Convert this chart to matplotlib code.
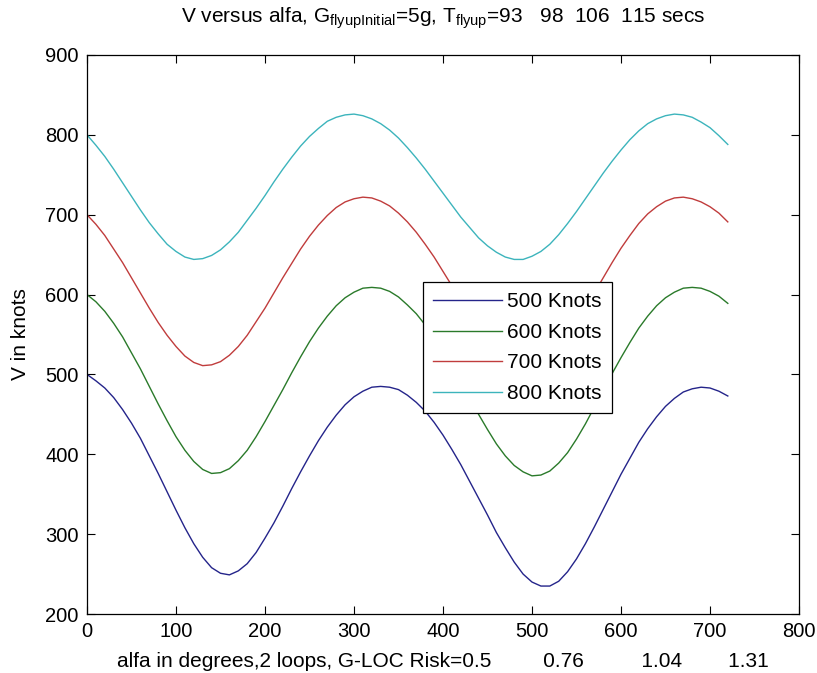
import matplotlib
matplotlib.use("Agg")
import matplotlib.pyplot as plt

plt.rcParams['font.family'] = ['Liberation Sans', 'DejaVu Sans']
plt.rcParams['mathtext.fontset'] = 'custom'
plt.rcParams['mathtext.rm'] = 'Liberation Sans'
plt.rcParams['mathtext.it'] = 'Liberation Sans'

# loop angle, degrees (two loops)
alfa = list(range(0, 721, 10))

# speed along the loop for each entry speed, knots
v500 = [500, 492, 483, 471, 456, 439, 420, 398, 376, 353,
        330, 308, 288, 271, 258, 251, 249, 254, 263, 277,
        295, 314, 335, 357, 378, 398, 417, 434, 449, 462,
        472, 479, 484, 485, 484, 481, 474, 465, 454, 440,
        424, 406, 387, 366, 345, 324, 302, 283, 265, 250,
        240, 235, 235, 241, 253, 269, 288, 309, 331, 353,
        375, 395, 415, 432, 447, 460, 470, 478, 482, 484,
        483, 479, 473]
v600 = [600, 591, 579, 564, 547, 527, 507, 485, 463, 442,
        422, 405, 391, 381, 376, 377, 382, 392, 405, 422,
        441, 461, 481, 502, 522, 541, 558, 573, 586, 596,
        603, 608, 609, 608, 604, 597, 587, 576, 562, 546,
        528, 509, 490, 470, 450, 431, 413, 398, 386, 378,
        373, 374, 379, 389, 402, 419, 438, 459, 480, 501,
        521, 540, 558, 573, 586, 596, 603, 608, 609, 608,
        604, 598, 589]
v700 = [700, 688, 674, 657, 640, 621, 602, 583, 565, 549,
        535, 523, 515, 511, 512, 516, 524, 535, 549, 566,
        583, 602, 621, 639, 657, 673, 687, 699, 709, 716,
        720, 722, 721, 717, 711, 702, 691, 678, 663, 647,
        629, 611, 593, 575, 558, 543, 530, 520, 512, 509,
        508, 513, 521, 533, 547, 564, 583, 602, 621, 640,
        658, 674, 689, 701, 710, 717, 721, 722, 720, 716,
        710, 702, 691]
v800 = [800, 787, 773, 757, 740, 723, 706, 690, 676, 663,
        654, 647, 644, 645, 649, 656, 666, 678, 693, 708,
        724, 741, 757, 772, 786, 798, 808, 817, 822, 825,
        826, 824, 820, 814, 806, 796, 784, 771, 757, 742,
        727, 712, 697, 684, 671, 661, 653, 647, 644, 644,
        648, 654, 663, 675, 689, 704, 720, 736, 752, 767,
        781, 794, 805, 814, 820, 824, 826, 825, 822, 816,
        809, 799, 788]

labels = ['500 Knots', '600 Knots', '700 Knots', '800 Knots']
colors = ['#24248a', '#2a7a2a', '#c03c3c', '#3cb4bc']

fs = 14.5

fig = plt.figure(figsize=(8.17, 6.73), dpi=100)
ax = fig.add_axes([87/817, 1 - 614/673, 712/817, 559/673])

for v, lab, c in zip([v500, v600, v700, v800], labels, colors):
    ax.plot(alfa, v, color=c, lw=1.0, label=lab)

ax.set_xlim(0, 800)
ax.set_ylim(200, 900)
ax.set_xticks(range(0, 801, 100))
ax.set_yticks(range(200, 901, 100))
ax.tick_params(direction='in', length=6, width=0.8, top=True, right=True, labelsize=fs, pad=6)
for s in ax.spines.values():
    s.set_linewidth(0.9)

ax.set_title(r'V versus alfa, G$_{\mathrm{flyupInitial}}$=5g, T$_{\mathrm{flyup}}$=93   98  106  115 secs',
             fontsize=15, pad=23)
ax.set_xlabel('alfa in degrees,2 loops, G-LOC Risk=0.5' + ' ' * 9 + '0.76' + ' ' * 10 + '1.04'
              + ' ' * 8 + '1.31', fontsize=15, labelpad=8)
ax.set_ylabel('V in knots', fontsize=15, labelpad=11)

leg = ax.legend(loc='upper left', bbox_to_anchor=((423 - 87) / 712, (614 - 282) / 559), fontsize=15,
                frameon=True, fancybox=False, framealpha=1, edgecolor='black',
                handlelength=3.3, handletextpad=0.25, labelspacing=0.55, borderpad=0.5,
                borderaxespad=0)
leg.get_frame().set_linewidth(0.9)

fig.savefig('out.png', dpi=100)
